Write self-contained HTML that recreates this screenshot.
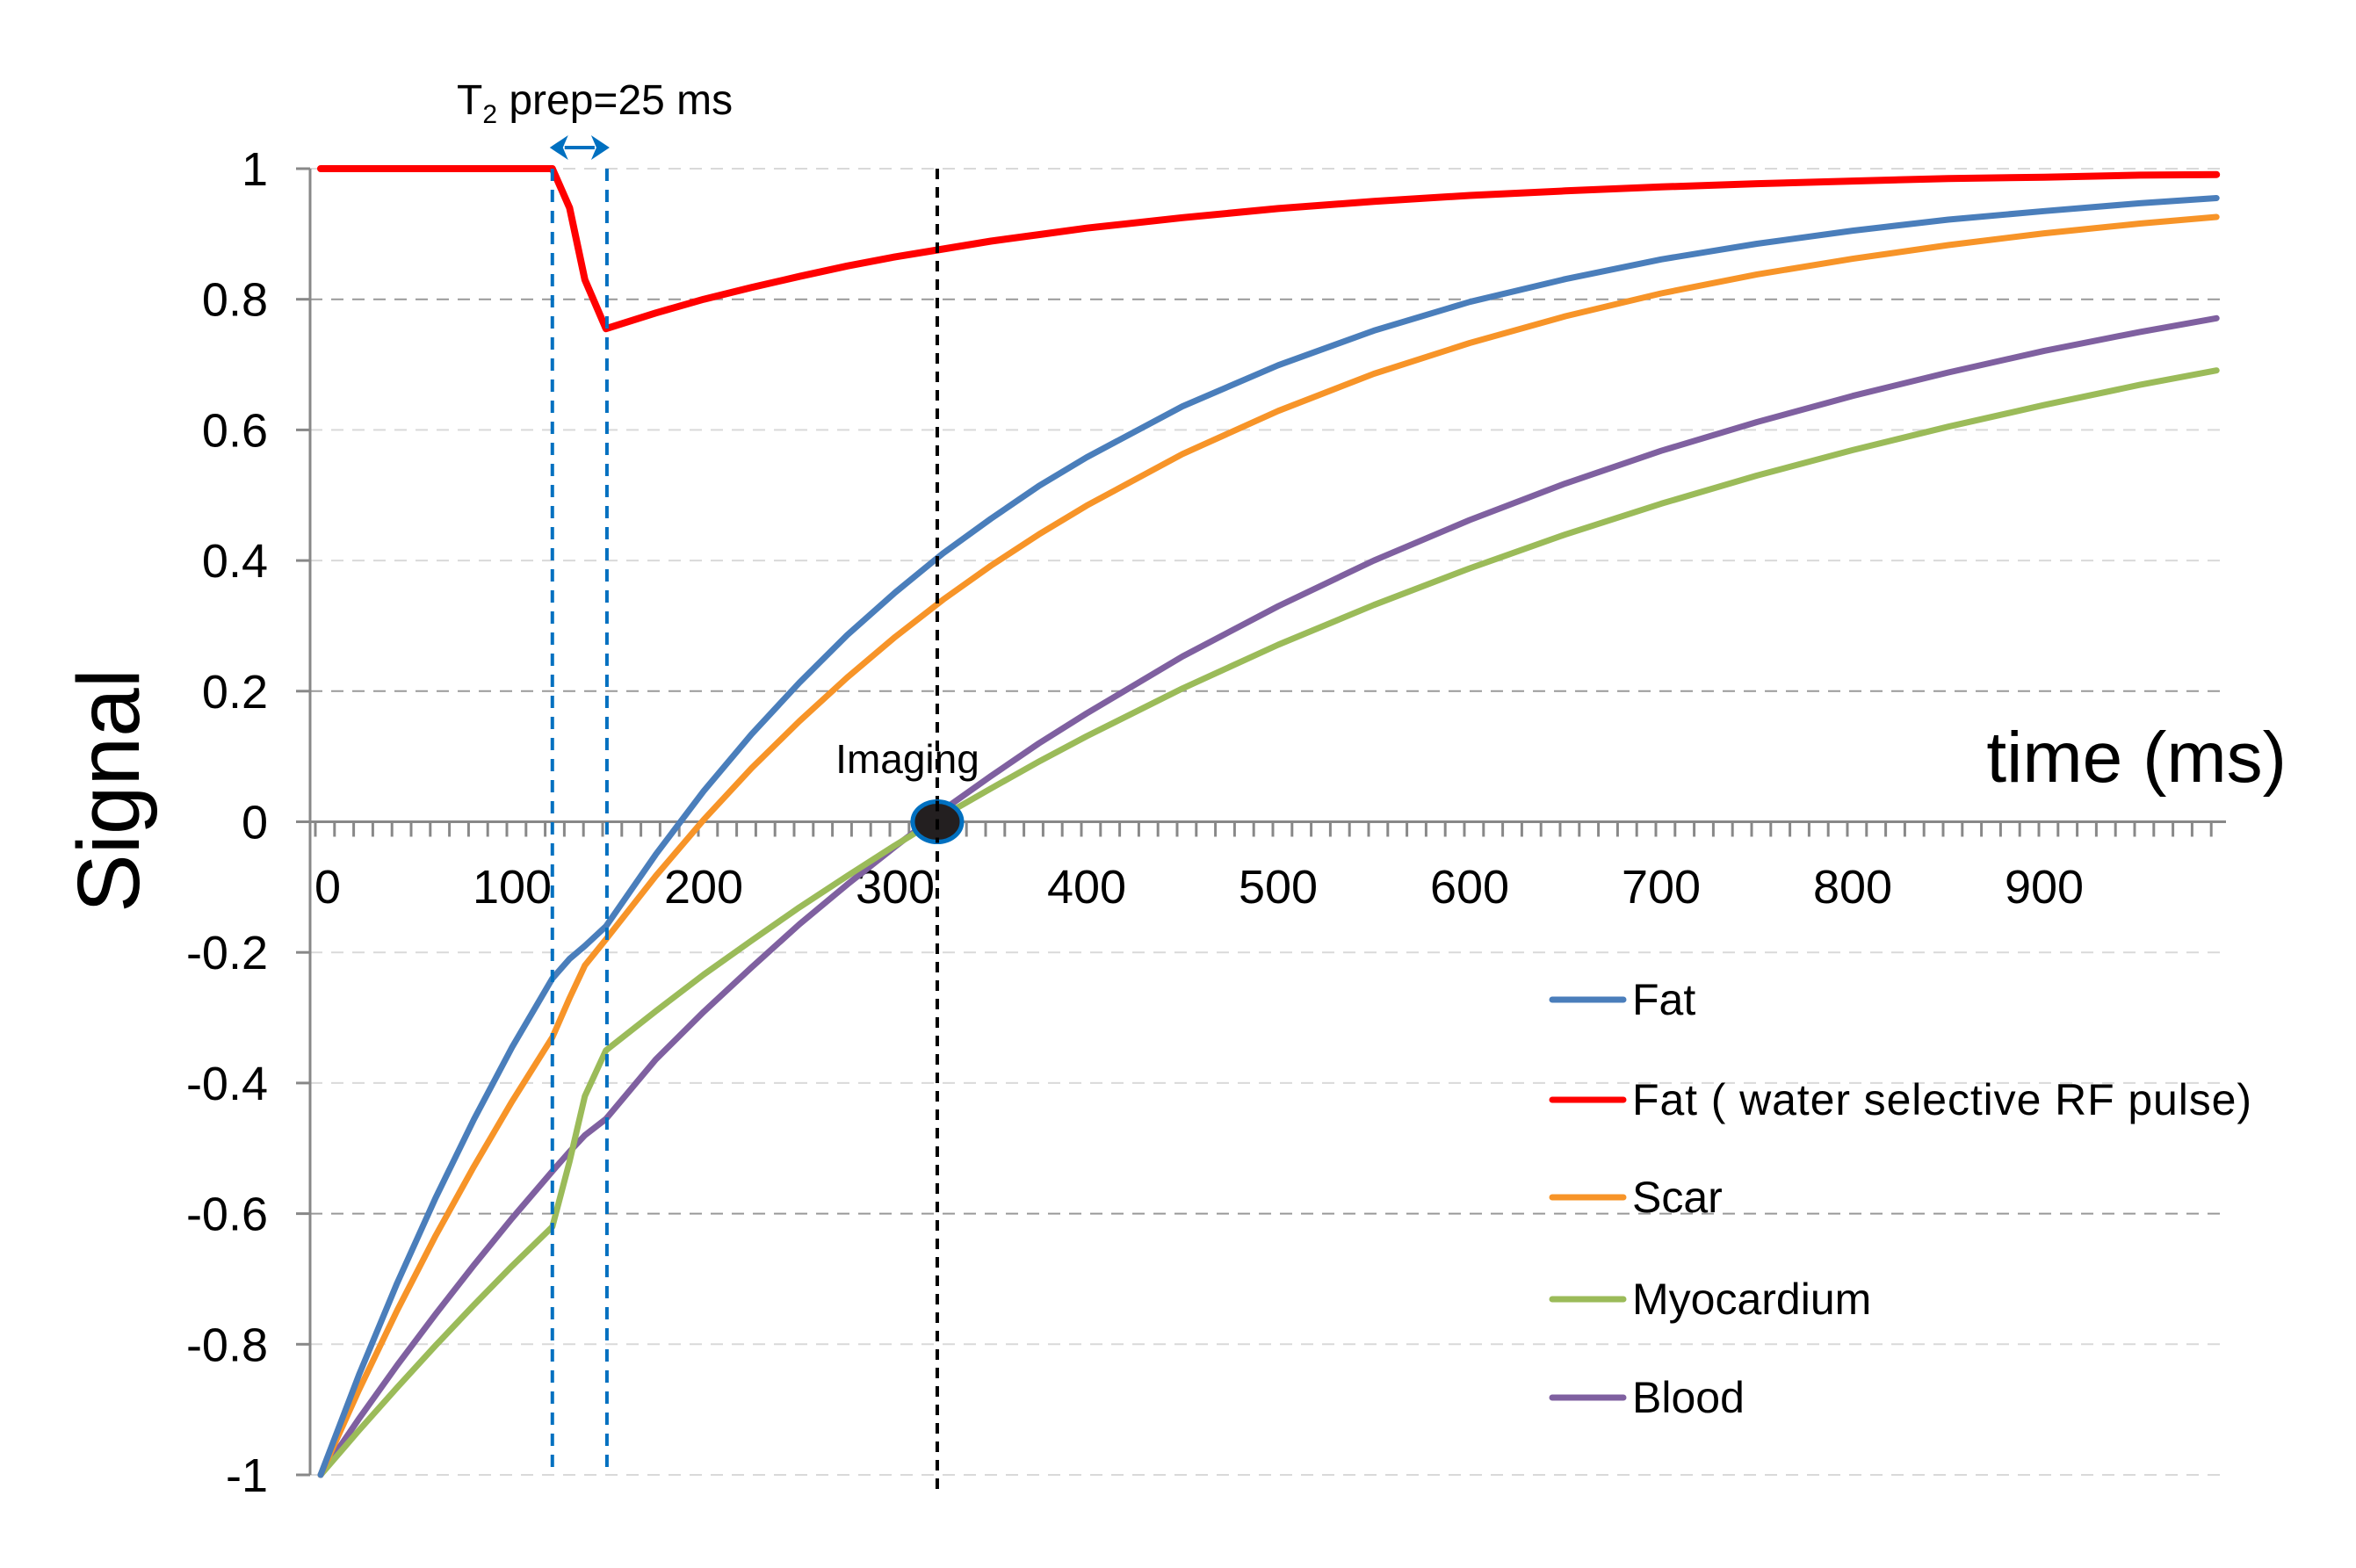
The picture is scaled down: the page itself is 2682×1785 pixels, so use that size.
<!DOCTYPE html>
<html><head><meta charset="utf-8"><style>
html,body{margin:0;padding:0;background:#fff;}
svg{display:block;font-family:"Liberation Sans",sans-serif;}
</style></head><body>
<svg id="chart" width="2682" height="1785" viewBox="0 0 2682 1785" xmlns="http://www.w3.org/2000/svg">
<g id="grid"></g>
<g id="axes"></g>
<g id="series"></g>
<g id="annot"></g>
<g id="legend"></g>
</svg>
<script>
const times = [0,20,40,60,80,100,121,130,138,149,175,200,225,250,275,300,325,350,375,400,450,500,550,600,650,700,750,800,850,900,950,990];
const fatValues = [-1,-0.847,-0.706,-0.576,-0.456,-0.345,-0.24,-0.21,-0.19,-0.16,-0.050,0.047,0.134,0.213,0.286,0.351,0.411,0.464,0.514,0.558,0.636,0.699,0.752,0.796,0.831,0.861,0.885,0.905,0.922,0.935,0.947,0.955];
const fatWsValues = [1,1,1,1,1,1,1,0.94,0.83,0.755,0.779,0.800,0.818,0.835,0.851,0.865,0.877,0.889,0.899,0.909,0.925,0.939,0.950,0.959,0.966,0.972,0.977,0.981,0.985,0.987,0.990,0.991];
const scarValues = [-1,-0.870,-0.748,-0.634,-0.528,-0.428,-0.33,-0.27,-0.22,-0.18,-0.083,0.003,0.082,0.154,0.221,0.283,0.340,0.392,0.440,0.484,0.563,0.629,0.686,0.733,0.774,0.809,0.838,0.862,0.883,0.901,0.916,0.926];
const myoValues = [-1,-0.932,-0.866,-0.802,-0.740,-0.680,-0.62,-0.52,-0.42,-0.35,-0.290,-0.234,-0.182,-0.131,-0.083,-0.036,0.009,0.051,0.092,0.131,0.204,0.271,0.332,0.388,0.440,0.487,0.530,0.569,0.605,0.638,0.669,0.691];
const bloodValues = [-1,-0.914,-0.832,-0.754,-0.679,-0.607,-0.535,-0.505,-0.48,-0.455,-0.364,-0.291,-0.223,-0.157,-0.096,-0.038,0.018,0.070,0.120,0.166,0.253,0.330,0.400,0.462,0.518,0.568,0.612,0.652,0.688,0.721,0.750,0.771];
const xTickLabels = [0,100,200,300,400,500,600,700,800,900];
const yTickValues = [1,0.8,0.6,0.4,0.2,0,-0.2,-0.4,-0.6,-0.8,-1];
const t2Start = 121, t2End = 149.5, imagingTime = 322;
const seriesNames = ["Fat","Fat ( water selective RF pulse)","Scar","Myocardium","Blood"];

const NS="http://www.w3.org/2000/svg";
const X = t => 365 + 2.18*t;
const Y = v => 935.5 - 743.5*v;
function mk(tag, parent, attrs){const e=document.createElementNS(NS,tag);for(const k in attrs)e.setAttribute(k,attrs[k]);parent.appendChild(e);return e;}
const grid=document.getElementById('grid'), axes=document.getElementById('axes'), series=document.getElementById('series'), annot=document.getElementById('annot'), legend=document.getElementById('legend');

yTickValues.forEach(v=>{
  if(v!==0){
    const g=mk('line',grid,{x1:353,x2:2534,y1:Y(v),y2:Y(v),stroke:(Math.abs(v-0.8)<1e-9||Math.abs(v+0.6)<1e-9||Math.abs(v-0.2)<1e-9)?'#999':'#d9d9d9','stroke-width':2,'stroke-dasharray':'14 10'});
    
    
  }
  const tk=mk('line',axes,{x1:337,x2:353,y1:Y(v),y2:Y(v),stroke:'#888','stroke-width':3});
  
  
  const lb=mk('text',axes,{x:305,y:Y(v)+19,'text-anchor':'end','font-size':54,fill:'#000'});
  lb.textContent=String(v);
  
  
});
const ya=mk('line',axes,{x1:353,x2:353,y1:Y(1),y2:Y(-1),stroke:'#888','stroke-width':3});


const xa=mk('line',axes,{x1:353,x2:2534,y1:Y(0),y2:Y(0),stroke:'#888','stroke-width':3});


for(let t=0;t<=990;t+=10){
  const m=mk('line',axes,{x1:X(t)-6,x2:X(t)-6,y1:Y(0),y2:Y(0)+17,stroke:'#888','stroke-width':3});
  
  
}
xTickLabels.forEach(t=>{
  const lb=mk('text',axes,{x:X(t)+(t===0?8:0),y:1028,'text-anchor':'middle','font-size':54,fill:'#000'});
  lb.textContent=String(t);
  
  
});
const xt=mk('text',axes,{x:2603,y:890,'text-anchor':'end','font-size':82,fill:'#000'});
xt.textContent='time (ms)';


const yt=mk('text',axes,{x:0,y:0,'text-anchor':'middle','font-size':100,fill:'#000',transform:'translate(158,900) rotate(-90)'});
yt.textContent='Signal';



[t2Start,t2End].forEach(t=>{
  const l=mk('line',annot,{x1:X(t),x2:X(t),y1:Y(1),y2:Y(-1),stroke:'#0070c0','stroke-width':4,'stroke-dasharray':'14 10'});
  
  
});
const im=mk('line',annot,{x1:X(imagingTime),x2:X(imagingTime),y1:Y(1),y2:1695,stroke:'#000','stroke-width':4,'stroke-dasharray':'12 9'});



const colors=['#4a7ebb','#ff0000','#f79428','#9bbb59','#7f60a0'];
const data=[fatValues,fatWsValues,scarValues,myoValues,bloodValues];
const order=[4,3,2,0,1];
order.forEach(i=>{
  const pts=times.map((t,j)=>X(t).toFixed(1)+','+Y(data[i][j]).toFixed(1)).join(' ');
  const p=mk('polyline',series,{points:pts,fill:'none',stroke:colors[i],'stroke-width':i===1?8:7,'stroke-linejoin':'round','stroke-linecap':'round'});
  
  
});

const ell=mk('ellipse',annot,{cx:X(imagingTime),cy:Y(0),rx:28,ry:23,fill:'#231f20',stroke:'#0070c0','stroke-width':5});


const iml=mk('line',annot,{x1:X(imagingTime),x2:X(imagingTime),y1:Y(0)-24,y2:Y(0)+24,stroke:'#000','stroke-width':4,'stroke-dasharray':'12 9'});


const imt=mk('text',annot,{x:1033,y:880,'text-anchor':'middle','font-size':46,fill:'#000'});
imt.textContent='Imaging';



const ar=mk('line',annot,{x1:X(t2Start)+14,x2:X(t2End)-14,y1:168,y2:168,stroke:'#0070c0','stroke-width':4});


const h1=mk('polygon',annot,{points:`${X(t2Start)-3},168 ${X(t2Start)+18},154 ${X(t2Start)+12},168 ${X(t2Start)+18},182`,fill:'#0070c0'});


const h2=mk('polygon',annot,{points:`${X(t2End)+3},168 ${X(t2End)-18},154 ${X(t2End)-12},168 ${X(t2End)-18},182`,fill:'#0070c0'});


const tt=mk('text',annot,{x:520,y:130,'font-size':48,fill:'#000'});
tt.innerHTML='T<tspan font-size="30" dy="10">2</tspan><tspan dy="-10"> prep=25 ms</tspan>';



const legY=[1138,1252,1363,1479,1591];
seriesNames.forEach((n,i)=>{
  const l=mk('line',legend,{x1:1767,x2:1848,y1:legY[i],y2:legY[i],stroke:colors[i],'stroke-width':7,'stroke-linecap':'round'});
  
  
  const attrs={x:1858,y:legY[i]+17,'font-size':50,fill:'#000'};
  if(i===1) attrs.textLength=705;
  const t=mk('text',legend,attrs);
  t.textContent=n;
  
  
});
</script>
</body></html>
